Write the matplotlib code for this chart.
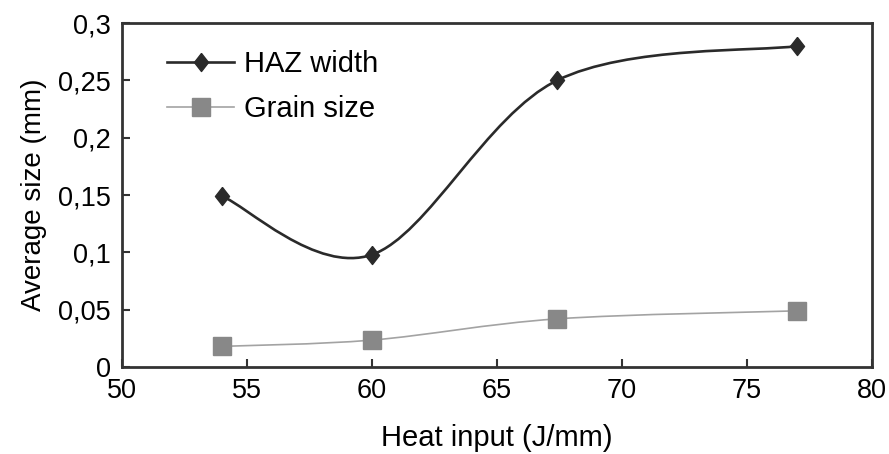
import numpy as np
import matplotlib
matplotlib.use("Agg")
import matplotlib.pyplot as plt
from matplotlib.path import Path
from matplotlib.patches import PathPatch
from matplotlib.lines import Line2D
from matplotlib.ticker import FuncFormatter

plt.rcParams['font.family'] = ['Liberation Sans', 'DejaVu Sans']

# datos
heat_input = [54, 60, 67.4, 77]
haz_width = [0.149, 0.098, 0.250, 0.280]
grain_size = [0.018, 0.0235, 0.042, 0.049]

x_ticks = [50, 55, 60, 65, 70, 75, 80]
y_ticks = [0, 0.05, 0.1, 0.15, 0.2, 0.25, 0.3]


def curva_suave(xs, ys):
    """Path de Bezier tipo 'linea suavizada' de Excel."""
    p = np.column_stack([xs, ys]).astype(float)
    n = len(p)
    verts = [p[0]]
    codes = [Path.MOVETO]
    for i in range(n - 1):
        p0 = p[i - 1] if i > 0 else p[i]
        p1 = p[i]
        p2 = p[i + 1]
        p3 = p[i + 2] if i + 2 < n else p[i + 1]
        c1 = p1 + (p2 - p0) / 6.0
        c2 = p2 - (p3 - p1) / 6.0
        verts += [c1, c2, p2]
        codes += [Path.CURVE4] * 3
    return Path(verts, codes)


# rombo un poco mas alto que ancho
rombo = [(0, 1), (0.78, 0), (0, -1), (-0.78, 0), (0, 1)]

fig = plt.figure(figsize=(8.89, 4.54), dpi=100)
ax = fig.add_axes([0.1372, 0.1916, 0.8438, 0.7575])

color_haz = '#2a2a2a'
color_grano_linea = '#a3a3a3'
color_grano = '#888888'

ax.add_patch(PathPatch(curva_suave(heat_input, haz_width), fill=False,
                       edgecolor=color_haz, linewidth=1.9, zorder=3))
ax.add_patch(PathPatch(curva_suave(heat_input, grain_size), fill=False,
                       edgecolor=color_grano_linea, linewidth=1.2, zorder=3))
ax.plot(heat_input, haz_width, linestyle='none', marker=rombo, markersize=13,
        color=color_haz, zorder=4)
ax.plot(heat_input, grain_size, linestyle='none', marker='s', markersize=13,
        color=color_grano, zorder=4)

ax.set_xlim(50, 80)
ax.set_ylim(0, 0.3)
ax.set_xticks(x_ticks)
ax.set_yticks(y_ticks)
ax.yaxis.set_major_formatter(FuncFormatter(lambda v, pos: f'{v:g}'.replace('.', ',')))
ax.tick_params(direction='in', length=6, width=1.5, color='#333333',
               labelsize=19.5, pad=8)
for s in ax.spines.values():
    s.set_linewidth(2)
    s.set_color('#333333')

ax.set_xlabel('Heat input (J/mm)', fontsize=21, labelpad=14)
ax.set_ylabel('Average size (mm)', fontsize=20, labelpad=8)

handles = [
    Line2D([], [], color=color_haz, linewidth=1.9, marker=rombo, markersize=13),
    Line2D([], [], color=color_grano_linea, linewidth=1.2, marker='s',
           markersize=13, markerfacecolor=color_grano, markeredgecolor=color_grano),
]
fig.legend(handles, ['HAZ width', 'Grain size'], loc='upper left',
           bbox_to_anchor=(0.188, 0.889), bbox_transform=fig.transFigure,
           frameon=False, fontsize=21, handlelength=2.3, handletextpad=0.33,
           labelspacing=0.58, borderpad=0, borderaxespad=0)

fig.savefig('out.png', dpi=100)
